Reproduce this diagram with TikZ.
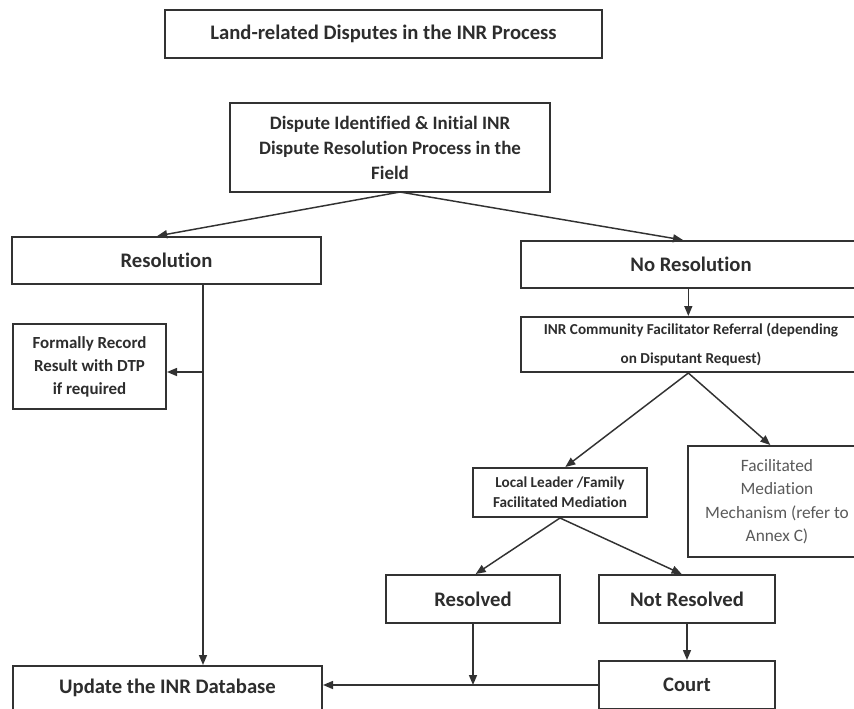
\documentclass[tikz,border=0pt]{standalone}
\usepackage{fontspec}
\setmainfont{Carlito}[Ligatures=NoCommon]
\usetikzlibrary{positioning, calc, arrows.meta}
\definecolor{lineGray}{RGB}{50,50,50}
\definecolor{textGray}{RGB}{45,45,45}
\definecolor{noteGray}{RGB}{90,90,90}

\begin{document}
\begin{tikzpicture}[x=0.75pt, y=-0.75pt,
          box/.style={draw=lineGray, line width=1.5pt, fill=white, inner sep=0pt,
                      align=center, text=textGray,
                      font=\fontsize{15.5}{19}\selectfont\bfseries},
          arr/.style={-{Triangle[length=7.5pt,width=6pt]}, line width=1.1pt, lineGray},
          wire/.style={line width=1.1pt, lineGray}
        ]
        \useasboundingbox (0,0) rectangle (854,708);
        \fill[white] (0,0) rectangle (854,708);

        % top of the chart
        \node[box, minimum width=327.75pt, minimum height=36pt]
              (title)   at (383.5,34)  {Land-related Disputes in the INR Process};
        \node[box, minimum width=240pt, minimum height=66.75pt,
              font=\fontsize{14.2}{18.75}\selectfont\bfseries]
              (dispute) at (390,147.5) {Dispute Identified \& Initial INR\\
                                        Dispute Resolution Process in the\\ Field};

        % two outcomes
        \node[box, minimum width=231.75pt, minimum height=35.25pt]
              (resol)   at (166.5,260.5) {Resolution};
        \node[box, minimum width=255pt, minimum height=35.25pt]
              (nores)   at (691,264.5)   {No Resolution};

        \node[box, minimum width=114.75pt, minimum height=63.75pt,
              font=\fontsize{12.7}{17.25}\selectfont\bfseries]
              (formal)  at (89.5,366.5) {Formally Record\\ Result with DTP\\ if required};
        \node[box, minimum width=255pt, minimum height=41.25pt,
              font=\fontsize{11.4}{21.75}\selectfont\bfseries]
              (refer)   at (691,344.5) {\raisebox{-3pt}{INR Community Facilitator Referral (depending}\\
                                        \raisebox{-3pt}{on Disputant Request)}};

        % mediation
        \node[box, minimum width=130.5pt, minimum height=36.75pt,
              font=\fontsize{11.4}{15}\selectfont\bfseries]
              (local)   at (560,492.5) {Local Leader /Family\\ Facilitated Mediation};
        \node[box, minimum width=133.5pt, minimum height=83.25pt, text=noteGray,
              font=\fontsize{13}{17.6}\selectfont]
              (facil)   at (777,501.5) {Facilitated\\ Mediation\\ Mechanism (refer to\\ Annex C)};

        \node[box, minimum width=130.5pt, minimum height=36pt]
              (resolved) at (473,599) {Resolved};
        \node[box, minimum width=132pt, minimum height=36pt]
              (notres)   at (687,599) {Not Resolved};
        \node[box, minimum width=132pt, minimum height=36pt]
              (court)    at (687,685) {Court};
        \node[box, minimum width=231.75pt, minimum height=33pt]
              (update)   at (167.5,688) {Update the INR Database};

        % connectors
        \coordinate (split) at (400,192);
        \coordinate (rec)   at (203,372);

        \draw[arr] (split) -- ([xshift=-7pt]resol.north);
        \draw[arr] (split) -- ([xshift=-6pt]nores.north);

        \draw[arr]  (resol.south -| rec) -- (update.north -| rec);
        \draw[arr]  (rec) -- (rec -| formal.east);

        \draw[arr] ([xshift=-2pt]nores.south) -- ([xshift=-2pt]refer.north);
        \draw[arr] ([xshift=-2pt]refer.south) -- ([xshift=4pt]local.north);
        \draw[arr] ([xshift=-2pt]refer.south) -- ([xshift=-5pt]facil.north);

        \draw[arr] (local.south) -- ([xshift=2pt]resolved.north);
        \draw[arr] (local.south) -- ([xshift=-4pt]notres.north);

        \draw[arr] (resolved.south) -- (resolved.south |- court.west);
        \draw[arr] (notres.south) -- (court.north);
        \draw[arr] (court.west) -- (court.west -| update.east);
      \end{tikzpicture}
\end{document}
